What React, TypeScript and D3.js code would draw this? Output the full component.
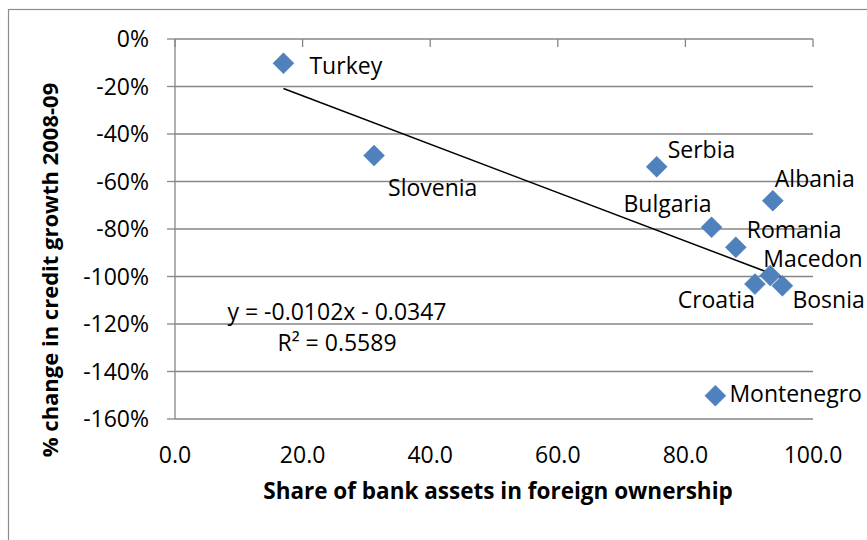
import * as d3 from 'd3';

const countries = ['Turkey', 'Slovenia', 'Serbia', 'Albania', 'Bulgaria', 'Romania', 'Macedon', 'Croatia', 'Bosnia', 'Montenegro'];
const foreignShare = [17.0, 31.2, 75.5, 93.7, 84.1, 87.9, 93.3, 90.9, 95.2, 84.7];
const creditChange = [-0.102, -0.491, -0.538, -0.681, -0.793, -0.877, -0.996, -1.032, -1.039, -1.502];

const trendSlope = -0.0102;
const trendIntercept = -0.0347;
const trendLabel = ['y = -0.0102x - 0.0347', 'R² = 0.5589'];

const xTicks = [0, 20, 40, 60, 80, 100];
const yTicks = [0, -0.2, -0.4, -0.6, -0.8, -1.0, -1.2, -1.4, -1.6];

// where each data label sits relative to its marker
const labelAnchor = ['start', 'start', 'start', 'start', 'end', 'start', 'start', 'end', 'start', 'start'];
const labelDx = [26, 14, 11, 2, 0, 11, -7, 0, 10, 14];
const labelDy = [11, 40, -9, -14, -15, -9, -9, 24, 22, 6];

const W = 867;
const H = 540;
const FONT = '"Open Sans", "Noto Sans", sans-serif';
const GRID = '#868686';

export default function App() {
  const x = d3.scaleLinear().domain([0, 100]).range([175, 813]);
  const y = d3.scaleLinear().domain([-1.6, 0]).range([419, 39]);
  const diamond = d3.symbol(d3.symbolSquare, 220)() ?? '';

  const xMin = d3.min(foreignShare) ?? 0;
  const xMax = d3.max(foreignShare) ?? 100;
  const trend = d3.line<number>()
    .x((d) => x(d))
    .y((d) => y(trendSlope * d + trendIntercept))([xMin, xMax]) ?? '';

  return (
    <svg width={W} height={H} style={{ position: 'absolute', left: 0, top: 0, background: '#fff' }}
      fontFamily={FONT}>
      <rect x={8.5} y={9.5} width={900} height={600} fill="#fff" stroke="#8c8c8c" strokeWidth={1.2} />

      {/* gridlines */}
      {yTicks.map((t) => (
        <line key={t} x1={x(0)} x2={x(100)} y1={y(t)} y2={y(t)} stroke={GRID} strokeWidth={1.3} />
      ))}
      {/* y axis */}
      <line x1={x(0)} x2={x(0)} y1={y(0)} y2={y(-1.6)} stroke={GRID} strokeWidth={1.3} />
      {yTicks.map((t) => (
        <g key={t}>
          <line x1={x(0) - 8} x2={x(0)} y1={y(t)} y2={y(t)} stroke={GRID} strokeWidth={1.3} />
          <text x={149} y={y(t)} dy="0.36em" textAnchor="end" fontSize={23} fill="#000">
            {`${Math.round(t * 100)}%`}
          </text>
        </g>
      ))}
      {/* x axis sits at 0% (top) */}
      {xTicks.map((t) => (
        <g key={t}>
          <line x1={x(t)} x2={x(t)} y1={y(0)} y2={y(0) + 8} stroke={GRID} strokeWidth={1.3} />
          <text x={x(t)} y={463} textAnchor="middle" fontSize={23} fill="#000">
            {t.toFixed(1)}
          </text>
        </g>
      ))}

      <path d={trend} stroke="#000" strokeWidth={1.5} fill="none" />

      {countries.map((c, i) => (
        <path key={c} d={diamond}
          transform={`translate(${x(foreignShare[i])},${y(creditChange[i])}) rotate(45)`}
          fill="#4F81BD" stroke="#4F81BD" strokeWidth={0.5} />
      ))}

      {countries.map((c, i) => (
        <text key={c}
          x={x(foreignShare[i]) + labelDx[i]}
          y={y(creditChange[i]) + labelDy[i]}
          textAnchor={labelAnchor[i]} fontSize={23} fill="#000">
          {c}
        </text>
      ))}

      <text x={337} y={348} textAnchor="middle" fontSize={23} fill="#000">
        <tspan x={337} dy={-28}>{trendLabel[0]}</tspan>
        <tspan x={337} dy={31}>{trendLabel[1]}</tspan>
      </text>

      <text x={498} y={499} textAnchor="middle" fontSize={22.5} fontWeight="bold" fill="#000">
        Share of bank assets in foreign ownership
      </text>
      <text transform="translate(58,270) rotate(-90)" textAnchor="middle" fontSize={22} fontWeight="bold" fill="#000">
        % change in credit growth 2008-09
      </text>
    </svg>
  );
}
